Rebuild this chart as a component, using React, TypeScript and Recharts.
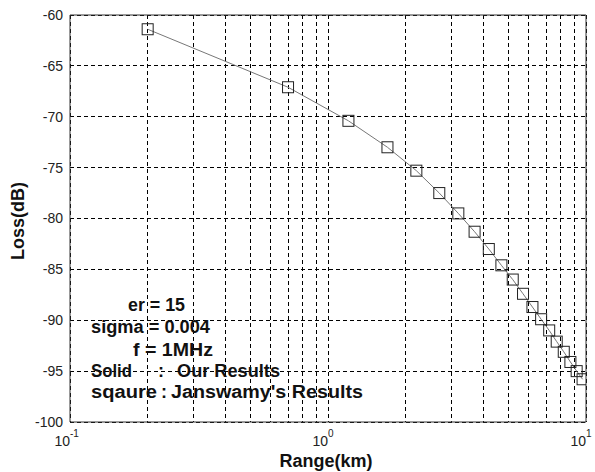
import { LineChart, Line, XAxis, YAxis, CartesianGrid, ReferenceLine } from 'recharts';

// range samples (km) and path loss (dB)
const rangeKm = [0.2, 0.7, 1.2, 1.7, 2.2, 2.7, 3.2, 3.7, 4.2, 4.7, 5.2, 5.7, 6.2, 6.7, 7.2, 7.7, 8.2, 8.7, 9.2, 9.7];
const lossDb = [-61.4, -67.1, -70.4, -73.0, -75.3, -77.5, -79.5, -81.3, -83.0, -84.6, -86.0, -87.4, -88.7, -89.9, -91.0, -92.1, -93.1, -94.1, -95.0, -95.8];

const xTicks = [0.1, 0.2, 0.3, 0.4, 0.5, 0.6, 0.7, 0.8, 0.9, 1, 2, 3, 4, 5, 6, 7, 8, 9, 10];
const yTicks = [-100, -95, -90, -85, -80, -75, -70, -65, -60];

const data = rangeKm.map((r, i) => ({ range: r, loss: lossDb[i] }));

const FONT = '"Liberation Sans", Arial, Helvetica, sans-serif';

function DecadeTick({ x, y, payload }: any) {
  const exp = Math.log10(payload.value);
  if (Math.abs(exp - Math.round(exp)) > 1e-6) return null;
  return (
    <g fontFamily={FONT} fill="#222">
      <text x={x} y={y + 16} textAnchor="end" fontSize={14}>10</text>
      <text x={x} y={y + 7} textAnchor="start" fontSize={10}>{Math.round(exp)}</text>
    </g>
  );
}

function SquareDot({ cx, cy }: any) {
  if (cx == null || cy == null) return null;
  return <rect x={cx - 5.5} y={cy - 5.5} width={11} height={11} fill="none" stroke="#222" strokeWidth={1} />;
}

const noteStyle = { fontFamily: FONT, fontSize: 18, fontWeight: 700, fill: '#111' } as const;

export default function App() {
  return (
    <div style={{ position: 'absolute', left: 0, top: 0, width: 595, height: 472, background: '#fff' }}>
      <LineChart width={595} height={472} data={data} margin={{ top: 15, right: 9, left: 0, bottom: 0 }}>
        <CartesianGrid stroke="#000" strokeDasharray="4 3" shapeRendering="crispEdges" />
        <XAxis
          dataKey="range"
          type="number"
          scale="log"
          domain={[0.1, 10]}
          allowDataOverflow
          ticks={xTicks}
          interval={0}
          height={50}
          tickLine={false}
          tickSize={6}
          tickMargin={2}
          axisLine={{ stroke: '#333' }}
          tick={<DecadeTick />}
        />
        <YAxis
          type="number"
          domain={[-100, -60]}
          ticks={yTicks}
          interval={0}
          width={70}
          tickLine={false}
          tickSize={6}
          tickMargin={1}
          axisLine={{ stroke: '#333' }}
          tick={{ fontSize: 14, fill: '#222', fontFamily: FONT }}
        />
        <ReferenceLine y={-60} stroke="#333" />
        <ReferenceLine x={10} stroke="#333" />
        <Line
          dataKey="loss"
          type="linear"
          stroke="#777"
          strokeWidth={1}
          dot={<SquareDot />}
          isAnimationActive={false}
        />
      </LineChart>
      <svg width={595} height={472} style={{ position: 'absolute', left: 0, top: 0, pointerEvents: 'none' }}>
        <text x={24} y={221} transform="rotate(-90 24 221)" textAnchor="middle" {...noteStyle}>Loss(dB)</text>
        <text x={326} y={467} textAnchor="middle" {...noteStyle}>Range(km)</text>
        <text x={128} y={311} textLength={57} lengthAdjust="spacingAndGlyphs" {...noteStyle}>er = 15</text>
        <text x={91} y={333} textLength={119} lengthAdjust="spacingAndGlyphs" {...noteStyle}>sigma = 0.004</text>
        <text x={133} y={356} textLength={80} lengthAdjust="spacingAndGlyphs" {...noteStyle}>f = 1MHz</text>
        <text x={91} y={377} textLength={41} lengthAdjust="spacingAndGlyphs" {...noteStyle}>Solid</text>
        <text x={161} y={377} textAnchor="middle" {...noteStyle}>:</text>
        <text x={177} y={377} textLength={103} lengthAdjust="spacingAndGlyphs" {...noteStyle}>Our Results</text>
        <text x={91} y={398} textLength={66} lengthAdjust="spacingAndGlyphs" {...noteStyle}>sqaure</text>
        <text x={164} y={398} textAnchor="middle" {...noteStyle}>:</text>
        <text x={171} y={398} textLength={192} lengthAdjust="spacingAndGlyphs" {...noteStyle}>Janswamy's Results</text>
      </svg>
    </div>
  );
}
